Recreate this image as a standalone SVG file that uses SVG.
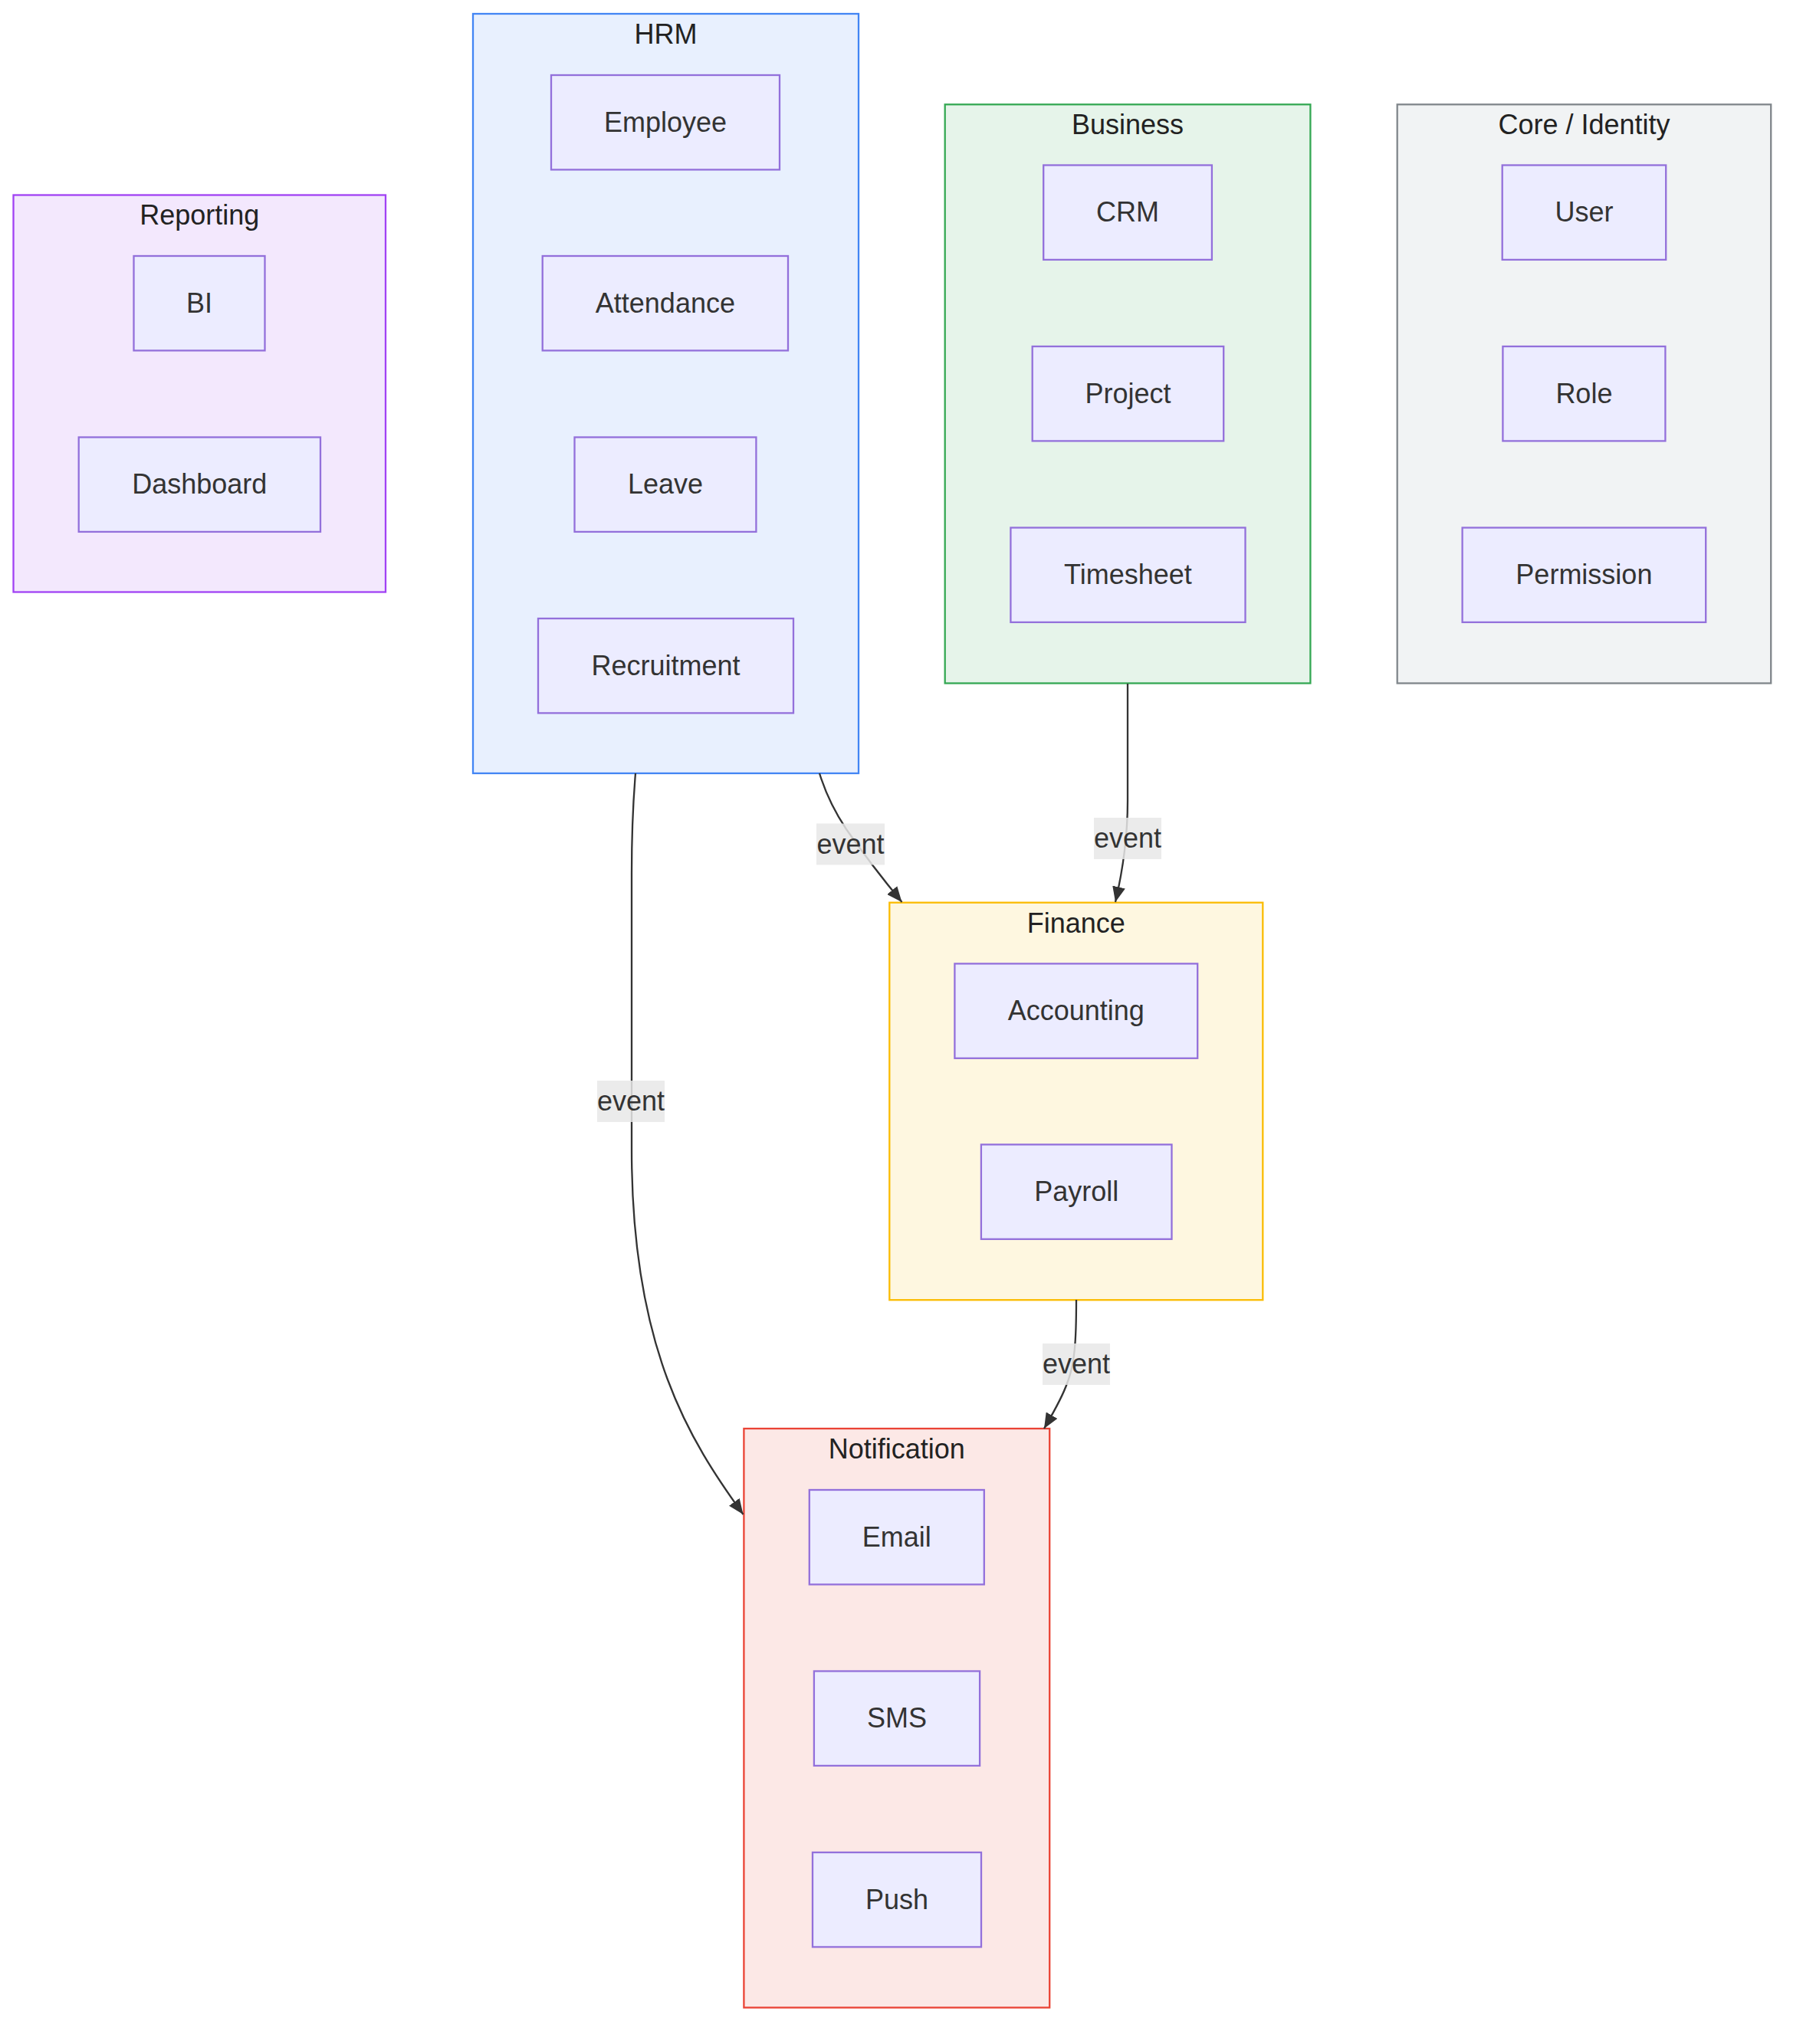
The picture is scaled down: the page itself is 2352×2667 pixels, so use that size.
<svg xmlns="http://www.w3.org/2000/svg" width="2352" height="2667" viewBox="0 0 2352 2667">
  <defs>
    <marker id="arrow" viewBox="0 0 20 17" refX="20" refY="8.5" markerWidth="20" markerHeight="17" markerUnits="userSpaceOnUse" orient="auto">
      <path d="M0,0 L20,8.5 L0,17 z" fill="#333333"/>
    </marker>
    <style>
      text { font-family: "Liberation Sans", Arial, sans-serif; font-size: 36px; fill: #333333; text-anchor: middle; }
      .cluster text { fill: #222222; }
      .node rect { fill: #ececff; stroke: #9370db; stroke-width: 2.3; }
      .cluster rect { stroke-width: 2.3; }
      .edge { fill: none; stroke: #333333; stroke-width: 2.3; marker-end: url(#arrow); }
      .elabel rect { fill: #e8e8e8; opacity: 0.85; }
    </style>
  </defs>
  <rect x="0" y="0" width="2352" height="2667" fill="#ffffff"/>

  <!-- Clusters -->
  <g id="cluster-reporting" class="cluster">
    <rect x="17.5" y="254.5" width="485.5" height="518" fill="#f3e8fd" stroke="#a142f4"/>
    <text x="260.25" y="293">Reporting</text>
  </g>
  <g id="cluster-hrm" class="cluster">
    <rect x="617" y="18" width="503" height="991" fill="#e8f0fe" stroke="#4285f4"/>
    <text x="868.5" y="56.5">HRM</text>
  </g>
  <g id="cluster-business" class="cluster">
    <rect x="1232.7" y="136.3" width="476.7" height="755.2" fill="#e6f4ea" stroke="#34a853"/>
    <text x="1471" y="174.5">Business</text>
  </g>
  <g id="cluster-core" class="cluster">
    <rect x="1822.7" y="136.3" width="487.5" height="755.2" fill="#f1f3f4" stroke="#80868b"/>
    <text x="2066.5" y="174.5">Core / Identity</text>
  </g>
  <g id="cluster-finance" class="cluster">
    <rect x="1160.3" y="1177.7" width="487" height="518.5" fill="#fef7e0" stroke="#fbbc04"/>
    <text x="1403.8" y="1216.5">Finance</text>
  </g>
  <g id="cluster-notification" class="cluster">
    <rect x="970.4" y="1864" width="398.8" height="755.5" fill="#fce8e6" stroke="#ea4335"/>
    <text x="1169.8" y="1902.5">Notification</text>
  </g>

  <!-- Nodes -->
  <g id="node-bi" class="node">
    <rect x="174.5" y="334" width="171" height="123.4"/>
    <text x="260" y="407.5">BI</text>
  </g>
  <g id="node-dashboard" class="node">
    <rect x="102.7" y="570.5" width="315.3" height="123.4"/>
    <text x="260.3" y="644">Dashboard</text>
  </g>
  <g id="node-employee" class="node">
    <rect x="719" y="98" width="298" height="123.4"/>
    <text x="868" y="171.5">Employee</text>
  </g>
  <g id="node-attendance" class="node">
    <rect x="707.7" y="334" width="320.3" height="123.4"/>
    <text x="867.9" y="407.5">Attendance</text>
  </g>
  <g id="node-leave" class="node">
    <rect x="749.5" y="570.5" width="236.9" height="123.4"/>
    <text x="868" y="644">Leave</text>
  </g>
  <g id="node-recruitment" class="node">
    <rect x="702" y="807" width="333" height="123.4"/>
    <text x="868.5" y="880.5">Recruitment</text>
  </g>
  <g id="node-crm" class="node">
    <rect x="1361.2" y="215.5" width="219.7" height="123.4"/>
    <text x="1471" y="289">CRM</text>
  </g>
  <g id="node-project" class="node">
    <rect x="1346.7" y="452" width="249.5" height="123.4"/>
    <text x="1471.4" y="525.5">Project</text>
  </g>
  <g id="node-timesheet" class="node">
    <rect x="1318.4" y="688.5" width="306.1" height="123.4"/>
    <text x="1471.4" y="762">Timesheet</text>
  </g>
  <g id="node-user" class="node">
    <rect x="1959.7" y="215.5" width="213.5" height="123.4"/>
    <text x="2066.5" y="289">User</text>
  </g>
  <g id="node-role" class="node">
    <rect x="1960.4" y="452" width="212" height="123.4"/>
    <text x="2066.4" y="525.5">Role</text>
  </g>
  <g id="node-permission" class="node">
    <rect x="1907.6" y="688.5" width="317.6" height="123.4"/>
    <text x="2066.4" y="762">Permission</text>
  </g>
  <g id="node-accounting" class="node">
    <rect x="1245.4" y="1257.4" width="316.8" height="123.4"/>
    <text x="1403.8" y="1331">Accounting</text>
  </g>
  <g id="node-payroll" class="node">
    <rect x="1279.9" y="1493.4" width="248.6" height="123.4"/>
    <text x="1404.2" y="1567">Payroll</text>
  </g>
  <g id="node-email" class="node">
    <rect x="1055.8" y="1944" width="228" height="123.4"/>
    <text x="1169.8" y="2017.5">Email</text>
  </g>
  <g id="node-sms" class="node">
    <rect x="1061.9" y="2180.5" width="216.2" height="123.4"/>
    <text x="1170" y="2254">SMS</text>
  </g>
  <g id="node-push" class="node">
    <rect x="1060" y="2417" width="220" height="123.4"/>
    <text x="1170" y="2490.5">Push</text>
  </g>

  <!-- Connectors -->
  <g id="connectors">
    <path class="edge" d="M1069,1009 C1077,1035 1088,1058 1104,1082 C1125,1112 1150,1145 1176.5,1177"/>
    <path class="edge" d="M1471,892 L1471,1045 C1471,1090 1466,1130 1455,1177"/>
    <path class="edge" d="M829,1009 C826,1045 824,1090 824,1140 L824,1500 C824,1760 900,1880 969.5,1976"/>
    <path class="edge" d="M1404,1696 C1404,1750 1402,1780 1392,1805 C1385,1825 1373,1845 1362,1864"/>
    <g class="elabel">
      <rect x="1065" y="1074.5" width="89" height="54"/>
      <text x="1109.5" y="1113.5">event</text>
    </g>
    <g class="elabel">
      <rect x="1427" y="1067" width="88" height="54"/>
      <text x="1471" y="1106">event</text>
    </g>
    <g class="elabel">
      <rect x="779" y="1410" width="88" height="54"/>
      <text x="823" y="1449">event</text>
    </g>
    <g class="elabel">
      <rect x="1360" y="1753" width="88" height="54"/>
      <text x="1404" y="1792">event</text>
    </g>
  </g>
</svg>
